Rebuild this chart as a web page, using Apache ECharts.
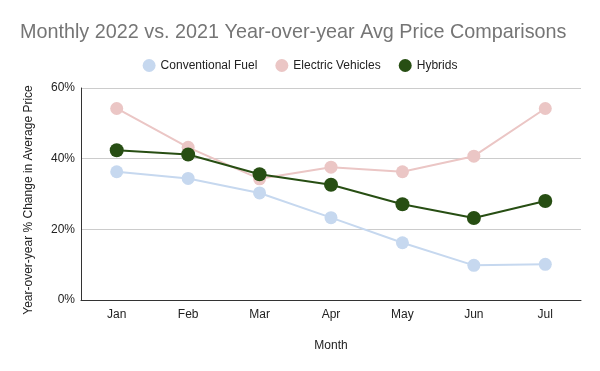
<!DOCTYPE html>
<html><head><meta charset="utf-8">
<script src="https://cdn.jsdelivr.net/npm/echarts@6/dist/echarts.min.js"></script>
<style>html,body{margin:0;padding:0;background:#fff}#c{width:600px;height:371px}</style>
</head><body><div id="c"></div>
<script>
const months = ['Jan','Feb','Mar','Apr','May','Jun','Jul'];
const conventionalFuel = [36.3, 34.4, 30.3, 23.3, 16.2, 9.8, 10.1];
const electricVehicles = [54.2, 43.2, 34.3, 37.6, 36.3, 40.7, 54.2];
const hybrids = [42.4, 41.2, 35.6, 32.6, 27.1, 23.2, 28.0];
const yTicks = [0, 20, 40, 60];

const font = 'Liberation Sans, Arial, sans-serif';
const chart = echarts.init(document.getElementById('c'));
function ser(name, data, color, op, size, w) {
  return {
    name, type: 'line', data, symbol: 'circle', symbolSize: size,
    lineStyle: {color, width: w, opacity: op},
    itemStyle: {color, opacity: op},
    emphasis: {disabled: true}
  };
}
chart.setOption({
  animation: false,
  title: {
    text: 'Monthly 2022 vs. 2021 Year-over-year Avg Price Comparisons',
    left: 15, top: 18,
    textStyle: {fontFamily: font, fontSize: 19.8, fontWeight: 'normal', color: '#757575'}
  },
  legend: {
    top: 54, left: 'center', itemWidth: 13, itemHeight: 13, itemGap: 18,
    icon: 'circle',
    textStyle: {fontFamily: font, fontSize: 12, color: '#222'},
    data: ['Conventional Fuel', 'Electric Vehicles', 'Hybrids']
  },
  grid: {left: 81, right: 19, top: 88, bottom: 71, containLabel: false},
  xAxis: {
    type: 'category', data: months, boundaryGap: true,
    name: 'Month', nameLocation: 'middle', nameGap: 40,
    nameTextStyle: {fontFamily: font, fontSize: 12, color: '#222'},
    axisLine: {lineStyle: {color: '#333', width: 1}},
    axisTick: {show: false},
    axisLabel: {fontFamily: font, fontSize: 12, color: '#222', margin: 9}
  },
  yAxis: {
    type: 'value', min: yTicks[0], max: yTicks[yTicks.length - 1], interval: 20,
    name: 'Year-over-year % Change in Average Price', nameLocation: 'middle', nameGap: 46,
    nameTextStyle: {fontFamily: font, fontSize: 12, color: '#222', padding: [0, 0, 0, -12]},
    axisLine: {show: true, lineStyle: {color: '#333', width: 1}},
    axisTick: {show: false},
    axisLabel: {fontFamily: font, fontSize: 12, color: '#222', formatter: '{value}%', margin: 6},
    splitLine: {lineStyle: {color: '#cccccc'}}
  },
  series: [
    ser('Conventional Fuel', conventionalFuel, '#c6d8ef', 1, 13, 2),
    ser('Electric Vehicles', electricVehicles, '#ebc6c5', 1, 13, 2),
    ser('Hybrids', hybrids, '#274e13', 1, 14, 2)
  ]
});
</script></body></html>
